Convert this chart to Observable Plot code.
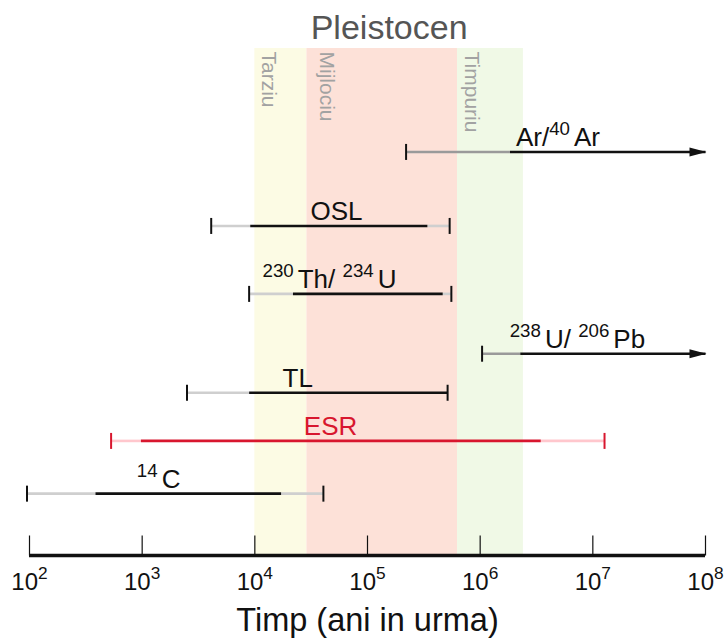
<!DOCTYPE html>
<html><head><meta charset="utf-8">
<script src="https://cdn.jsdelivr.net/npm/d3@7"></script>
<script src="https://cdn.jsdelivr.net/npm/@observablehq/plot@0.6"></script>
<style>
html,body{margin:0;padding:0;background:#fff;}
</style>
</head><body><div id="chart"></div>
<script>
// ---- data (years ago) ----
const methods    = ["Ar/^{40}Ar", "OSL", "^{230}Th/ ^{234}U", "^{238}U/ ^{206}Pb", "TL", "ESR", "^{14}C"];
const lanes      = [79.6, 65.0, 51.6, 39.8, 32.1, 22.6, 12.2];
const rangeMin   = [2.2e5, 4.1e3, 8.9e3, 1.04e6, 2.5e3, 530, 95];
const coreMin    = [1.84e6, 9.1e3, 2.18e4, 2.27e6, 8.9e3, 975, 385];
const coreMax    = [1e8, 3.4e5, 4.65e5, 1e8, 5.14e5, 3.45e6, 1.71e4];
const rangeMax   = [1e8, 5.36e5, 5.55e5, 1e8, 5.14e5, 1.27e7, 4.06e4];
const openEnded  = [true, false, false, true, false, false, false];
const labelAt    = [4.9e6, 5.3e4, 4.6e4, 7.3e6, 2.4e4, 4.7e4, 1.4e3];

const bandNames  = ["Tarziu", "Mijlociu", "Timpuriu"];
const bandStart  = [1e4, 2.9e4, 6.3e5];
const bandEnd    = [2.9e4, 6.3e5, 2.42e6];
const bandColors = ["#fcfbe4", "#fde1d8", "#f0f9e6"];

const xTicks     = [1e2, 1e3, 1e4, 1e5, 1e6, 1e7, 1e8];
const tickLabels = ["10^{2}", "10^{3}", "10^{4}", "10^{5}", "10^{6}", "10^{7}", "10^{8}"];
const periodTitle = "Pleistocen";
const axisTitle   = "Timp (ani in urma)";

// ---- tables ----
const rows = methods.map((name, i) => ({
  name, lane: lanes[i], min: rangeMin[i], lo: coreMin[i], hi: coreMax[i], max: rangeMax[i],
  open: openEnded[i], labelAt: labelAt[i]
}));
const bands = bandNames.map((name, i) => ({name, start: bandStart[i], end: bandEnd[i], color: bandColors[i]}));
const ticks = xTicks.map((v, i) => ({v, label: tickLabels[i]}));

const RED = "#d8162e", RED_LIGHT = "#ffc7cd";
const dark = d => d.name === "ESR" ? RED : "#111";
const light = d => d.name === "ESR" ? RED_LIGHT : (d.open ? "#9a9a9a" : "#cfcfcf");

const endTick = {draw(c) { c.moveTo(0, -8); c.lineTo(0, 8); }};
const axisTick = {draw(c) { c.moveTo(0, 0); c.lineTo(0, -20); }};
const arrowHead = {draw(c) { c.moveTo(1, 0); c.lineTo(-16, -4.5); c.lineTo(-16, 4.5); c.closePath(); }};

const plot = Plot.plot({
  width: 726, height: 639,
  marginLeft: 29, marginRight: 21, marginTop: 48, marginBottom: 84,
  x: {type: "log", domain: [1e2, 1e8], axis: null},
  y: {domain: [0, 100], axis: null},
  color: {type: "identity"},
  style: {fontFamily: "'Liberation Sans', Arial, Helvetica, sans-serif", background: "#fff", overflow: "visible"},
  marks: [
    Plot.rect(bands, {x1: "start", x2: "end", y1: 0, y2: 100, fill: "color"}),
    Plot.text(bands.filter(d => d.name !== "Mijlociu"), {x: "start", y: 100, text: "name", rotate: 90, textAnchor: "start", dx: 14, dy: 3, fontSize: 21, fill: "#a2a2a2"}),
    Plot.text(bands.filter(d => d.name === "Mijlociu"), {x: "start", y: 100, text: "name", rotate: 90, textAnchor: "start", dx: 20, dy: 3, fontSize: 21, fill: "#a2a2a2"}),
    Plot.text([periodTitle], {x: Math.sqrt(bandStart[0] * bandEnd[2]), y: 100, text: d => d, dy: -20, fontSize: 34, fill: "#555"}),
    // light outer segments
    Plot.link(rows.filter(d => d.min < d.lo), {x1: "min", x2: "lo", y1: "lane", y2: "lane", stroke: light, strokeWidth: 2.6}),
    Plot.link(rows.filter(d => d.hi < d.max), {x1: "hi", x2: "max", y1: "lane", y2: "lane", stroke: light, strokeWidth: 2.6}),
    // core segments
    Plot.link(rows, {x1: "lo", x2: "hi", y1: "lane", y2: "lane", stroke: dark, strokeWidth: 2.6}),
    // end ticks
    Plot.dot(rows, {x: "min", y: "lane", symbol: endTick, r: 5, fill: "none", stroke: dark, strokeWidth: 2}),
    Plot.dot(rows.filter(d => !d.open), {x: "max", y: "lane", symbol: endTick, r: 5, fill: "none", stroke: dark, strokeWidth: 2}),
    // arrow heads
    Plot.dot(rows.filter(d => d.open), {x: "max", y: "lane", symbol: arrowHead, r: 5, fill: dark, stroke: "none"}),
    // labels
    Plot.text(rows, {x: "labelAt", y: "lane", text: "name", lineAnchor: "bottom", dy: -6, fontSize: 26, fill: dark}),
    // axis
    Plot.ruleY([0], {stroke: "#111", strokeWidth: 3.5}),
    Plot.dot(ticks, {x: "v", y: 0, symbol: axisTick, r: 5, fill: "none", stroke: "#111", strokeWidth: 1.2}),
    Plot.text(ticks, {x: "v", y: 0, text: "label", lineAnchor: "bottom", dy: 34, fontSize: 24, fill: "#111"}),
    Plot.text([axisTitle], {x: 1e5, y: 0, text: d => d, lineAnchor: "bottom", dy: 75, fontSize: 32.5, fill: "#111"})
  ]
});

document.getElementById("chart").appendChild(plot);

// superscripts: "^{..}" -> raised tspans
d3.select(plot).selectAll("text").each(function() {
  const el = this, s = el.textContent;
  if (!s.includes("^{")) return;
  const fs = parseFloat(getComputedStyle(el).fontSize) || 16;
  const parts = s.split(/(\^\{[^}]*\})/).filter(p => p.length);
  el.textContent = "";
  const raise = fs * 0.42;
  let shifted = false;
  for (const p of parts) {
    const m = p.match(/^\^\{([^}]*)\}$/);
    const ts = document.createElementNS("http://www.w3.org/2000/svg", "tspan");
    if (m) {
      ts.textContent = m[1];
      ts.setAttribute("font-size", (fs * 0.72).toFixed(1));
      ts.setAttribute("dy", (-raise).toFixed(1));
      shifted = true;
    } else {
      ts.textContent = p;
      if (shifted) { ts.setAttribute("dy", raise.toFixed(1)); ts.setAttribute("dx", "4"); shifted = false; }
    }
    el.appendChild(ts);
  }
});
</script>
</body></html>
